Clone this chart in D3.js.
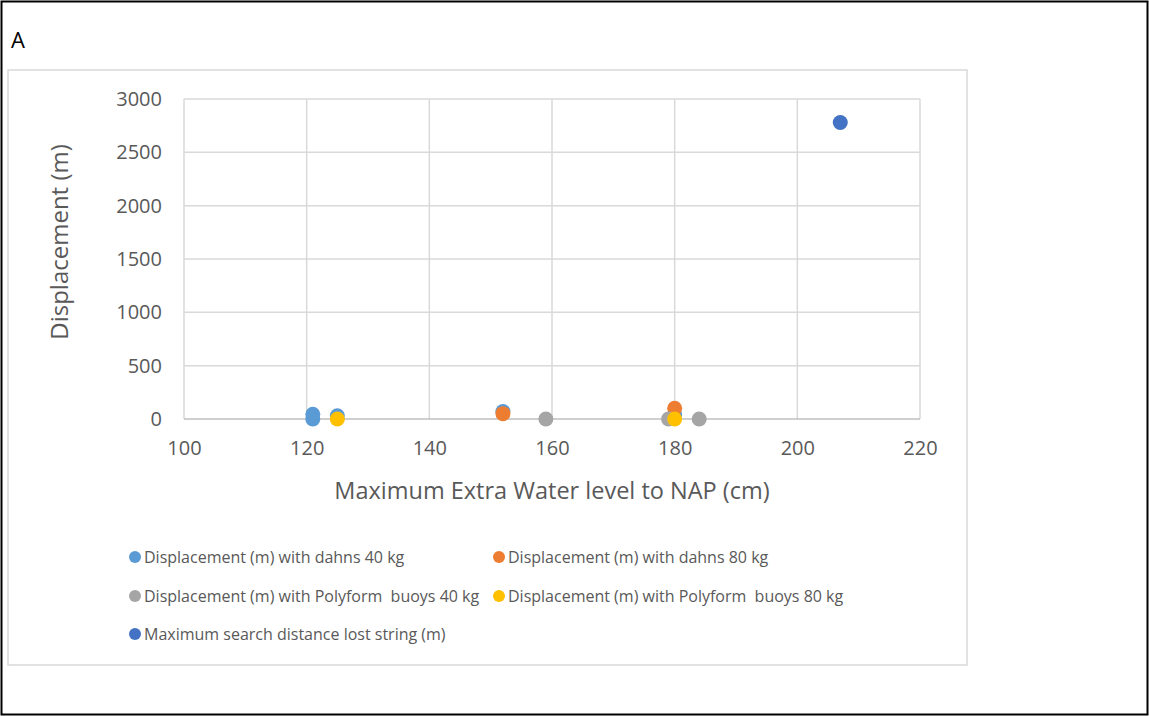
<!DOCTYPE html>
<html><head><meta charset="utf-8">
<script src="https://cdn.jsdelivr.net/npm/d3@7"></script>
<style>body{margin:0;background:#fff;}svg{display:block;font-family:"Open Sans",sans-serif;}</style>
</head><body>
<script>
const xTicks = [100,120,140,160,180,200,220];
const yTicks = [0,500,1000,1500,2000,2500,3000];
const seriesNames = ["Displacement (m) with dahns 40 kg","Displacement (m) with dahns 80 kg","Displacement (m) with Polyform  buoys 40 kg","Displacement (m) with Polyform  buoys 80 kg","Maximum search distance lost string (m)"];
const seriesColors = ["#5B9BD5","#ED7D31","#A5A5A5","#FFC000","#4472C4"];
const dahns40X = [121,121,125,152,180];
const dahns40Y = [45,0,30,70,40];
const dahns80X = [152,180];
const dahns80Y = [50,100];
const poly40X = [159,179,184];
const poly40Y = [0,0,0];
const poly80X = [125,180];
const poly80Y = [0,0];
const maxSearchX = [207];
const maxSearchY = [2780];
const seriesX = [dahns40X,dahns80X,poly40X,poly80X,maxSearchX];
const seriesY = [dahns40Y,dahns80Y,poly40Y,poly80Y,maxSearchY];

const W=1149,H=716;
const svg=d3.select("body").append("svg").attr("width",W).attr("height",H);
svg.append("rect").attr("x",1.5).attr("y",1.5).attr("width",1146).attr("height",713).attr("fill","none").attr("stroke","#000").attr("stroke-width",2);
svg.append("text").attr("x",11).attr("y",48).attr("font-size",22).attr("fill","#000").text("A");
svg.append("rect").attr("x",8).attr("y",70).attr("width",959).attr("height",595).attr("fill","#fff").attr("stroke","#d9d9d9").attr("stroke-width",1.5);

const x=d3.scaleLinear().domain([100,220]).range([184,920]);
const y=d3.scaleLinear().domain([0,3000]).range([419,99]);

svg.append("g").selectAll("line").data(xTicks).join("line")
 .attr("x1",d=>x(d)).attr("x2",d=>x(d)).attr("y1",y(3000)).attr("y2",y(0))
 .attr("stroke","#d9d9d9").attr("stroke-width",1.5);
svg.append("g").selectAll("line").data(yTicks).join("line")
 .attr("x1",x(100)).attr("x2",x(220)).attr("y1",d=>y(d)).attr("y2",d=>y(d))
 .attr("stroke",d=>d===0?"#bfbfbf":"#d9d9d9").attr("stroke-width",1.5);

const xAxis=svg.append("g").attr("transform",`translate(0,${y(0)})`).call(d3.axisBottom(x).tickValues(xTicks).tickSize(0).tickPadding(22));
const yAxis=svg.append("g").attr("transform",`translate(${x(100)},0)`).call(d3.axisLeft(y).tickValues(yTicks).tickSize(0).tickPadding(22).tickFormat(d3.format("d")));
[xAxis,yAxis].forEach(a=>{a.select(".domain").remove();a.selectAll("text").attr("font-size",20).attr("fill","#595959").attr("font-family","Open Sans, sans-serif");});

svg.append("text").attr("x",552).attr("y",499).attr("text-anchor","middle").attr("font-size",23.5).attr("fill","#595959").text("Maximum Extra Water level to NAP (cm)");
svg.append("text").attr("transform","translate(68,242) rotate(-90)").attr("text-anchor","middle").attr("font-size",24).attr("fill","#595959").text("Displacement (m)");

seriesX.forEach((xs,i)=>{
  svg.append("g").selectAll("circle").data(xs.map((v,j)=>[v,seriesY[i][j]])).join("circle")
   .attr("cx",d=>x(d[0])).attr("cy",d=>y(d[1])).attr("r",7.5).attr("fill",seriesColors[i]);
});

const legPos=[[135,557],[499,557],[135,596],[499,596],[135,634]];
const lg=svg.append("g");
seriesNames.forEach((n,i)=>{
  const [lx,ly]=legPos[i];
  lg.append("circle").attr("cx",lx).attr("cy",ly).attr("r",6).attr("fill",seriesColors[i]);
  lg.append("text").attr("x",lx+9).attr("y",ly+5.5).attr("font-size",16).attr("fill","#595959").style("white-space","pre").attr("xml:space","preserve").text(n);
});
</script>
</body></html>
